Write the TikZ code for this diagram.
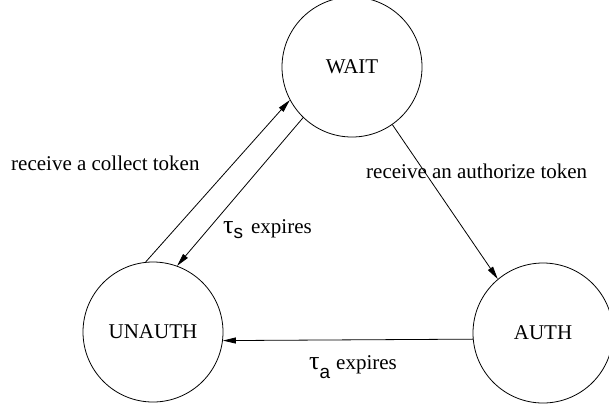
\documentclass[tikz,border=0pt]{standalone}
\usepackage{fontspec}
\setmainfont{Liberation Serif}
\newfontfamily\subfont{Liberation Sans}
\usetikzlibrary{arrows.meta}
\tikzset{
  state/.style={circle, draw, line width=0.8pt, minimum size=140pt, inner sep=0pt,
    font=\fontsize{21}{24}\selectfont},
  arr/.style={line width=0.8pt, -{Triangle[length=13pt,width=6pt]}},
  lbl/.style={anchor=base west, inner sep=0pt, font=\fontsize{21}{24}\selectfont}
}
\newcommand{\tausym}{{\fontsize{26}{26}\selectfont τ}}
\begin{document}
\begin{tikzpicture}[x=1pt,y=-1pt]
  \useasboundingbox (0,0) rectangle (609,408);

  % states
  \node[state] (wait)   at (352,67)  {WAIT};
  \node[state] (unauth) at (153,332) {UNAUTH};
  \node[state] (auth)   at (543,333) {AUTH};

  % transitions
  \draw[arr] (unauth.96.5) -- (wait.208.3);
  \draw[arr] (wait.226.7)  -- (unauth.70.3);
  \draw[arr] (wait.305)    -- (auth.130.8);
  \draw[arr] (auth.185.7)  -- (unauth.353.5);

  % transition labels
  \node[lbl] (lcollect) at (11,170)  {receive a collect token};
  \node[lbl] (lauthz)   at (366,178) {receive an authorize token};
  \node[lbl] (ltaus)    at (223,233)
    {\tausym\raisebox{-5pt}{\subfont\fontsize{19}{19}\selectfont s}\hspace{8pt}expires};
  \node[lbl] (ltaua)    at (309,369)
    {\tausym\raisebox{-9pt}{\subfont\fontsize{19}{19}\selectfont a}\hspace{6pt}expires};
\end{tikzpicture}
\end{document}
